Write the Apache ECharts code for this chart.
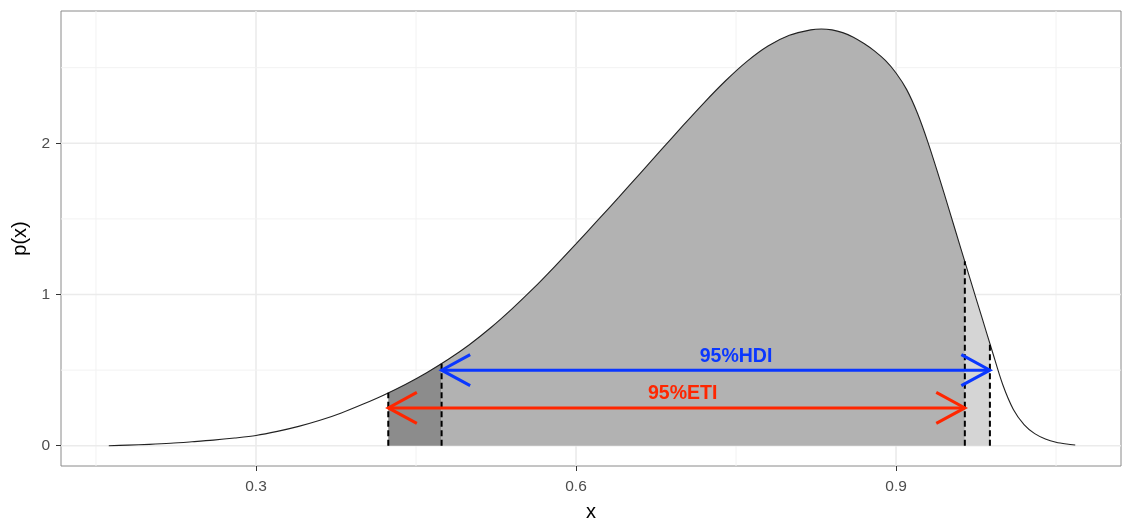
<!DOCTYPE html>
<html><head><meta charset="utf-8">
<script src="https://cdn.jsdelivr.net/npm/echarts@6/dist/echarts.min.js"></script>
<style>html,body{margin:0;padding:0;background:#fff}#c{width:1126px;height:522px}</style>
</head><body><div id="c"></div>
<script>
// ---- data ----
const curveX = [0.162,0.18,0.20,0.22,0.24,0.26,0.28,0.30,0.32,0.34,0.36,0.38,0.40,0.42,0.44,0.46,0.48,0.50,0.52,0.54,0.56,0.58,0.60,0.62,0.64,0.66,0.68,0.70,0.72,0.74,0.76,0.78,0.80,0.82,0.83,0.84,0.85,0.86,0.87,0.88,0.89,0.90,0.91,0.92,0.93,0.94,0.95,0.96,0.97,0.98,0.99,1.00,1.01,1.02,1.03,1.04,1.05,1.06,1.068];
const curveY = [0.000,0.004,0.009,0.016,0.026,0.037,0.051,0.068,0.095,0.128,0.168,0.217,0.274,0.336,0.405,0.483,0.570,0.668,0.780,0.905,1.040,1.185,1.335,1.488,1.643,1.800,1.958,2.115,2.268,2.412,2.540,2.643,2.714,2.750,2.756,2.750,2.732,2.702,2.660,2.610,2.548,2.465,2.355,2.200,2.005,1.785,1.555,1.322,1.090,0.860,0.630,0.405,0.240,0.140,0.080,0.045,0.023,0.011,0.005];
const intervalBounds = [0.424, 0.474, 0.9645, 0.988];
const boundHeights = [0.35, 0.545, 1.22, 0.675];
const arrowLabels = ['95%HDI', '95%ETI'];
const arrowFrom = [0.474, 0.424];
const arrowTo = [0.988, 0.9645];
const arrowY = [0.5, 0.25];
const labelX = [0.75, 0.70];
const labelY = [0.59, 0.345];
const xTicks = [0.3, 0.6, 0.9];
const xTickLabels = ['0.3', '0.6', '0.9'];
const yTicks = [0, 1, 2];
const yTickLabels = ['0', '1', '2'];
const xMinor = [0.15, 0.45, 0.75, 1.05];
const yMinor = [0.5, 1.5, 2.5];
const xRange = [0.1172, 1.1109];
const yRange = [-0.134, 2.875];

// ---- styles ----
const shadeColors = ['#8c8c8c', '#b2b2b2', '#d5d5d5'];
const arrowColors = ['#0a37ff', '#ff2600'];
const FONT = '"Liberation Sans", Arial, Helvetica, sans-serif';
const SMOOTH = 0.3;

function regionData(lo, hi, hLo, hHi) {
  const pts = [[lo, hLo]];
  for (let i = 0; i < curveX.length; i++) {
    if (curveX[i] > lo + 0.004 && curveX[i] < hi - 0.004) pts.push([curveX[i], curveY[i]]);
  }
  pts.push([hi, hHi]);
  return pts;
}

const curve = curveX.map((x, i) => [x, curveY[i]]);
const series = [];

// grid lines
series.push({
  type: 'custom', z: 0, silent: true, clip: true,
  data: xTicks.map(v => [v, 0, 1]).concat(xMinor.map(v => [v, 0, 0])),
  renderItem: (params, api) => {
    const cs = params.coordSys;
    const px = api.coord([api.value(0), 0])[0];
    const major = api.value(2) === 1;
    return { type: 'line', shape: { x1: px, y1: cs.y, x2: px, y2: cs.y + cs.height },
      style: { stroke: major ? '#ebebeb' : '#f2f2f2', lineWidth: major ? 1.6 : 1 } };
  }
});
series.push({
  type: 'custom', z: 0, silent: true, clip: true,
  data: yTicks.map(v => [0.5, v, 1]).concat(yMinor.map(v => [0.5, v, 0])),
  renderItem: (params, api) => {
    const cs = params.coordSys;
    const py = api.coord([0.5, api.value(1)])[1];
    const major = api.value(2) === 1;
    return { type: 'line', shape: { x1: cs.x, y1: py, x2: cs.x + cs.width, y2: py },
      style: { stroke: major ? '#ebebeb' : '#f2f2f2', lineWidth: major ? 1.6 : 1 } };
  }
});

// shaded regions
for (let r = 0; r < 3; r++) {
  series.push({
    type: 'line', z: 1, silent: true, showSymbol: false, symbol: 'none',
    smooth: SMOOTH,
    data: regionData(intervalBounds[r], intervalBounds[r + 1], boundHeights[r], boundHeights[r + 1]),
    lineStyle: { width: 0, opacity: 0 },
    areaStyle: { color: shadeColors[r], opacity: 1 }
  });
}

// density curve
series.push({
  type: 'line', z: 2, silent: true, showSymbol: false, symbol: 'none',
  smooth: SMOOTH,
  data: curve, lineStyle: { color: '#222', width: 1.1 }
});

// dashed bounds
series.push({
  type: 'custom', z: 3, silent: true,
  data: intervalBounds.map((b, i) => [b, boundHeights[i]]),
  renderItem: (params, api) => {
    const p0 = api.coord([api.value(0), 0]);
    const p1 = api.coord([api.value(0), api.value(1)]);
    return { type: 'line', shape: { x1: p0[0], y1: p0[1], x2: p1[0], y2: p1[1] },
      style: { stroke: '#000', lineWidth: 2, lineDash: [6, 3.5] } };
  }
});

// arrows
series.push({
  type: 'custom', z: 4, silent: true,
  data: arrowFrom.map((f, i) => [f, arrowTo[i], arrowY[i]]),
  encode: { x: [0, 1], y: 2 },
  renderItem: (params, api) => {
    const a = api.coord([api.value(0), api.value(2)]);
    const b = api.coord([api.value(1), api.value(2)]);
    const c = arrowColors[params.dataIndex];
    const L = 32.5, ang = 28.5 * Math.PI / 180;
    const dx = L * Math.cos(ang), dy = L * Math.sin(ang);
    const st = { stroke: c, lineWidth: 3, fill: null, lineJoin: 'miter', lineCap: 'butt' };
    return { type: 'group', children: [
      { type: 'line', shape: { x1: a[0], y1: a[1], x2: b[0], y2: b[1] }, style: st },
      { type: 'polyline', shape: { points: [[a[0] + dx, a[1] - dy], [a[0], a[1]], [a[0] + dx, a[1] + dy]] }, style: st },
      { type: 'polyline', shape: { points: [[b[0] - dx, b[1] - dy], [b[0], b[1]], [b[0] - dx, b[1] + dy]] }, style: st }
    ] };
  }
});

// labels
series.push({
  type: 'custom', z: 5, silent: true,
  data: labelX.map((x, i) => [x, labelY[i]]),
  renderItem: (params, api) => {
    const p = api.coord([api.value(0), api.value(1)]);
    return { type: 'text', x: p[0], y: p[1],
      style: { text: arrowLabels[params.dataIndex], fill: arrowColors[params.dataIndex],
        font: 'bold 19.5px ' + FONT, align: 'center', verticalAlign: 'middle' } };
  }
});

const chart = echarts.init(document.getElementById('c'), null, { renderer: 'canvas' });
chart.setOption({
  animation: false,
  backgroundColor: '#fff',
  grid: { left: 61, right: 5, top: 11, bottom: 56, show: true, borderColor: '#8a8a8a', borderWidth: 1,
    backgroundColor: 'transparent', outerBoundsMode: 'none', containLabel: false },
  xAxis: {
    type: 'value', min: xRange[0], max: xRange[1],
    splitLine: { show: false }, axisLine: { show: false, onZero: false },
    axisTick: { show: true, customValues: xTicks, length: 5, lineStyle: { color: '#333', width: 1 } },
    axisLabel: { customValues: xTicks, formatter: v => { const k = xTicks.indexOf(v); return k >= 0 ? xTickLabels[k] : ''; },
      color: '#4d4d4d', fontSize: 15.5, fontFamily: FONT, margin: 13 },
    name: 'x', nameLocation: 'middle', nameGap: 36,
    nameTextStyle: { fontSize: 20, color: '#000', fontFamily: FONT }
  },
  yAxis: {
    type: 'value', min: yRange[0], max: yRange[1],
    splitLine: { show: false }, axisLine: { show: false, onZero: false },
    axisTick: { show: true, customValues: yTicks, length: 5, lineStyle: { color: '#333', width: 1 } },
    axisLabel: { customValues: yTicks, formatter: v => { const k = yTicks.indexOf(v); return k >= 0 ? yTickLabels[k] : ''; },
      color: '#4d4d4d', fontSize: 15.5, fontFamily: FONT, margin: 11 },
    name: 'p(x)', nameLocation: 'middle', nameGap: 27, nameRotate: 90,
    nameTextStyle: { fontSize: 20, color: '#000', fontFamily: FONT }
  },
  series: series
});
</script>
</body></html>
